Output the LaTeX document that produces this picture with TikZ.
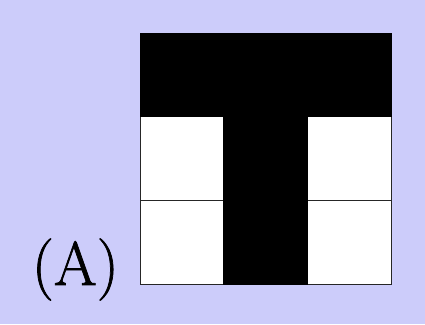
\documentclass[tikz,border=0pt]{standalone}
\usepackage{tikz}
\usepackage{fontspec}
\newfontfamily\labelfont[FakeBold=1.2]{Latin Modern Roman}
\definecolor{lavender}{RGB}{204,204,250}

\begin{document}
\begin{tikzpicture}[x=1pt, y=1pt,
  cell/.style={draw=black!85, line width=0.7pt, minimum size=83.7pt, inner sep=0pt, outer sep=0pt}]
  \fill[lavender] (0,0) rectangle (425,324);
  \useasboundingbox (0,0) rectangle (425,324);
  % white cells
  \foreach \i in {0,2}
    \foreach \j in {0,1}
      \node[cell, fill=white] (c\i\j) at ({140+83.7*\i+41.85}, {40+83.7*\j+41.85}) {};
  % black T
  \foreach \i in {0,1,2}
    \node[cell, fill=black, draw=black] (c\i2) at ({140+83.7*\i+41.85}, {40+83.7*2+41.85}) {};
  \foreach \j in {0,1}
    \node[cell, fill=black, draw=black] (c1\j) at ({140+83.7+41.85}, {40+83.7*\j+41.85}) {};
  \node[anchor=base east, inner sep=0pt, font=\labelfont\fontsize{62}{66}\selectfont] (lbl) at (119,39) {(A)};
\end{tikzpicture}
\end{document}
